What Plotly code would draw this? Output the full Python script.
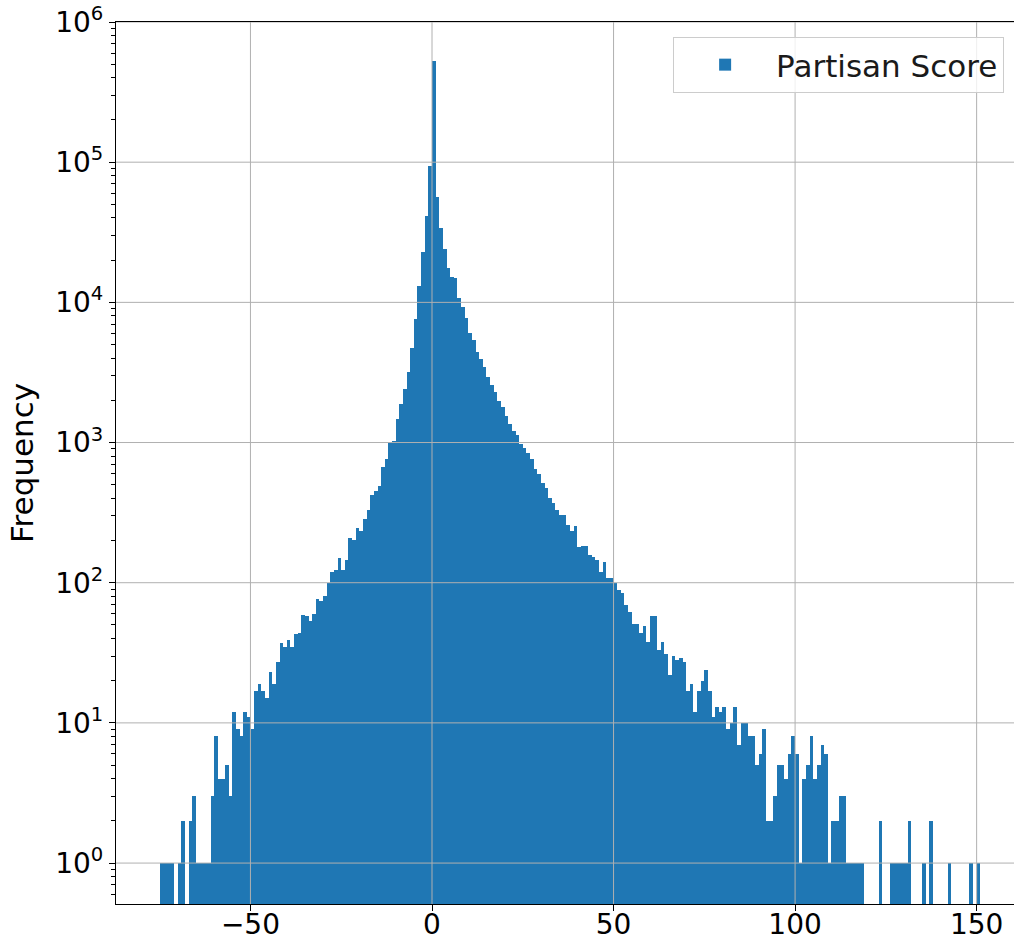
import plotly.graph_objects as go

# Histogram of "Partisan Score": bin left edges (width 1) and counts
bin_start = -75
bin_width = 1.0
counts = [
    1, 1, 1, 1, 0, 1, 2, 0, 2, 3,            # -75 .. -66
    1, 1, 1, 1, 3, 8, 4, 4, 5, 3,            # -65 .. -56
    12, 9, 8, 12, 11, 9, 17, 19, 17, 15,     # -55 .. -46
    23, 19, 27, 37, 35, 39, 35, 43, 44, 59,  # -45 .. -36
    58, 53, 60, 76, 74, 81, 99, 120, 124, 149,   # -35 .. -26
    124, 145, 210, 201, 246, 234, 283, 329, 422, 450,  # -25 .. -16
    489, 664, 757, 985, 1028, 1462, 1871, 2393, 3194, 4735,  # -15 .. -6
    7670, 13100, 22800, 41200, 93600,        # -5 .. -1
    528000,                                  # 0
    56600, 34000, 24200, 17500, 15200, 14800, 10800, 9200, 7700, 6070,  # 1 .. 10
    5380, 4400, 3920, 3440, 2950, 2570, 2300, 1990, 1800, 1550,  # 11 .. 20
    1360, 1200, 1130, 975, 918, 836, 757, 650, 600, 511,   # 21 .. 30
    471, 400, 368, 329, 306, 306, 258, 234, 253, 180,      # 31 .. 40
    183, 183, 157, 153, 145, 120, 141, 108, 108, 99,       # 41 .. 50
    88, 84, 69, 62, 51, 51, 44, 49, 38, 58,                # 51 .. 60
    58, 33, 38, 31, 22, 30, 28, 29, 27, 17,                # 61 .. 70
    19, 12, 17, 20, 24, 17, 11, 13, 12, 13,                # 71 .. 80
    9, 10, 13, 7, 10, 10, 8, 8, 5, 6,                      # 81 .. 90
    9, 2, 2, 3, 5, 5, 4, 6, 8, 6,                          # 91 .. 100
    1, 4, 5, 8, 4, 5, 7, 6, 1, 2,                          # 101 .. 110
    2, 3, 3, 1, 1, 1, 1, 1, 0, 0,                          # 111 .. 120
    0, 0, 2, 0, 0, 1, 1, 1, 1, 1,                          # 121 .. 130
    2, 0, 0, 0, 1, 0, 2, 0, 0, 0,                          # 131 .. 140
    0, 1, 0, 0, 0, 0, 0, 1, 0, 1,                          # 141 .. 150
]
series_name = "Partisan Score"

x_tick_vals = [-50, 0, 50, 100, 150]
x_tick_text = ["\u221250", "0", "50", "100", "150"]
y_tick_vals = [1, 10, 100, 1000, 10000, 100000, 1000000]
y_tick_text = ["10<sup>0</sup>", "10<sup>1</sup>", "10<sup>2</sup>", "10<sup>3</sup>",
               "10<sup>4</sup>", "10<sup>5</sup>", "10<sup>6</sup>"]

centers = [bin_start + bin_width * (i + 0.5) for i in range(len(counts))]
y_vals = [c if c > 0 else None for c in counts]

BLUE = "#1f77b4"
GRID = "#b0b0b0"
FONT = "DejaVu Sans"

fig = go.Figure()
fig.add_trace(go.Bar(
    x=centers, y=y_vals, width=bin_width, name=series_name,
    marker=dict(color=BLUE, line=dict(width=0)),
    showlegend=True,
))

minor_vals = [m * 10 ** e for e in range(-1, 6) for m in range(2, 10)]

# grid drawn above the bars, like the reference
shapes = []
for xv in x_tick_vals:
    shapes.append(dict(type="line", xref="x", yref="paper", x0=xv, x1=xv, y0=0, y1=1,
                       line=dict(color=GRID, width=1), layer="above"))
for yv in y_tick_vals:
    shapes.append(dict(type="line", xref="paper", yref="y", x0=0, x1=1, y0=yv, y1=yv,
                       line=dict(color=GRID, width=1), layer="above"))

fig.update_layout(
    width=1014, height=942,
    margin=dict(l=116, r=0, t=22, b=38, autoexpand=False),
    paper_bgcolor="white", plot_bgcolor="white",
    font=dict(family=FONT, color="black"),
    bargap=0,
    shapes=shapes,
    showlegend=True,
    legend=dict(
        x=0.989, y=0.983, xanchor="right", yanchor="top",
        bgcolor="rgba(255,255,255,0.8)", bordercolor="#cccccc", borderwidth=1,
        font=dict(size=31, family=FONT, color="#1a1a1a"),
        itemwidth=92,
    ),
    xaxis=dict(
        range=[-87.03, 160.29], automargin=False,
        tickmode="array", tickvals=x_tick_vals, ticktext=x_tick_text,
        ticks="outside", ticklen=6, tickwidth=1.2, tickcolor="black",
        ticklabelstandoff=-11,
        tickfont=dict(size=28, family=FONT, color="black"),
        showgrid=False, zeroline=False,
        showline=True, linecolor="black", linewidth=1.2, mirror=True,
    ),
    yaxis=dict(
        type="log", range=[-0.292, 6.0], automargin=False,
        tickmode="array", tickvals=y_tick_vals, ticktext=y_tick_text,
        ticks="outside", ticklen=6, tickwidth=1.2, tickcolor="black",
        tickfont=dict(size=28, family=FONT, color="black"),
        minor=dict(tickmode="array", tickvals=minor_vals, ticks="outside",
                   ticklen=3.5, tickwidth=1, tickcolor="black", showgrid=False),
        showgrid=False, zeroline=False,
        showline=True, linecolor="black", linewidth=1.2, mirror=False,
        title=dict(text="Frequency", font=dict(size=31, family=FONT, color="black"),
                   standoff=12),
    ),
)

fig.write_html(
    "out.html",
    config={"displayModeBar": False},
    post_script="document.body.style.margin='0';document.body.style.overflow='hidden';",
)
